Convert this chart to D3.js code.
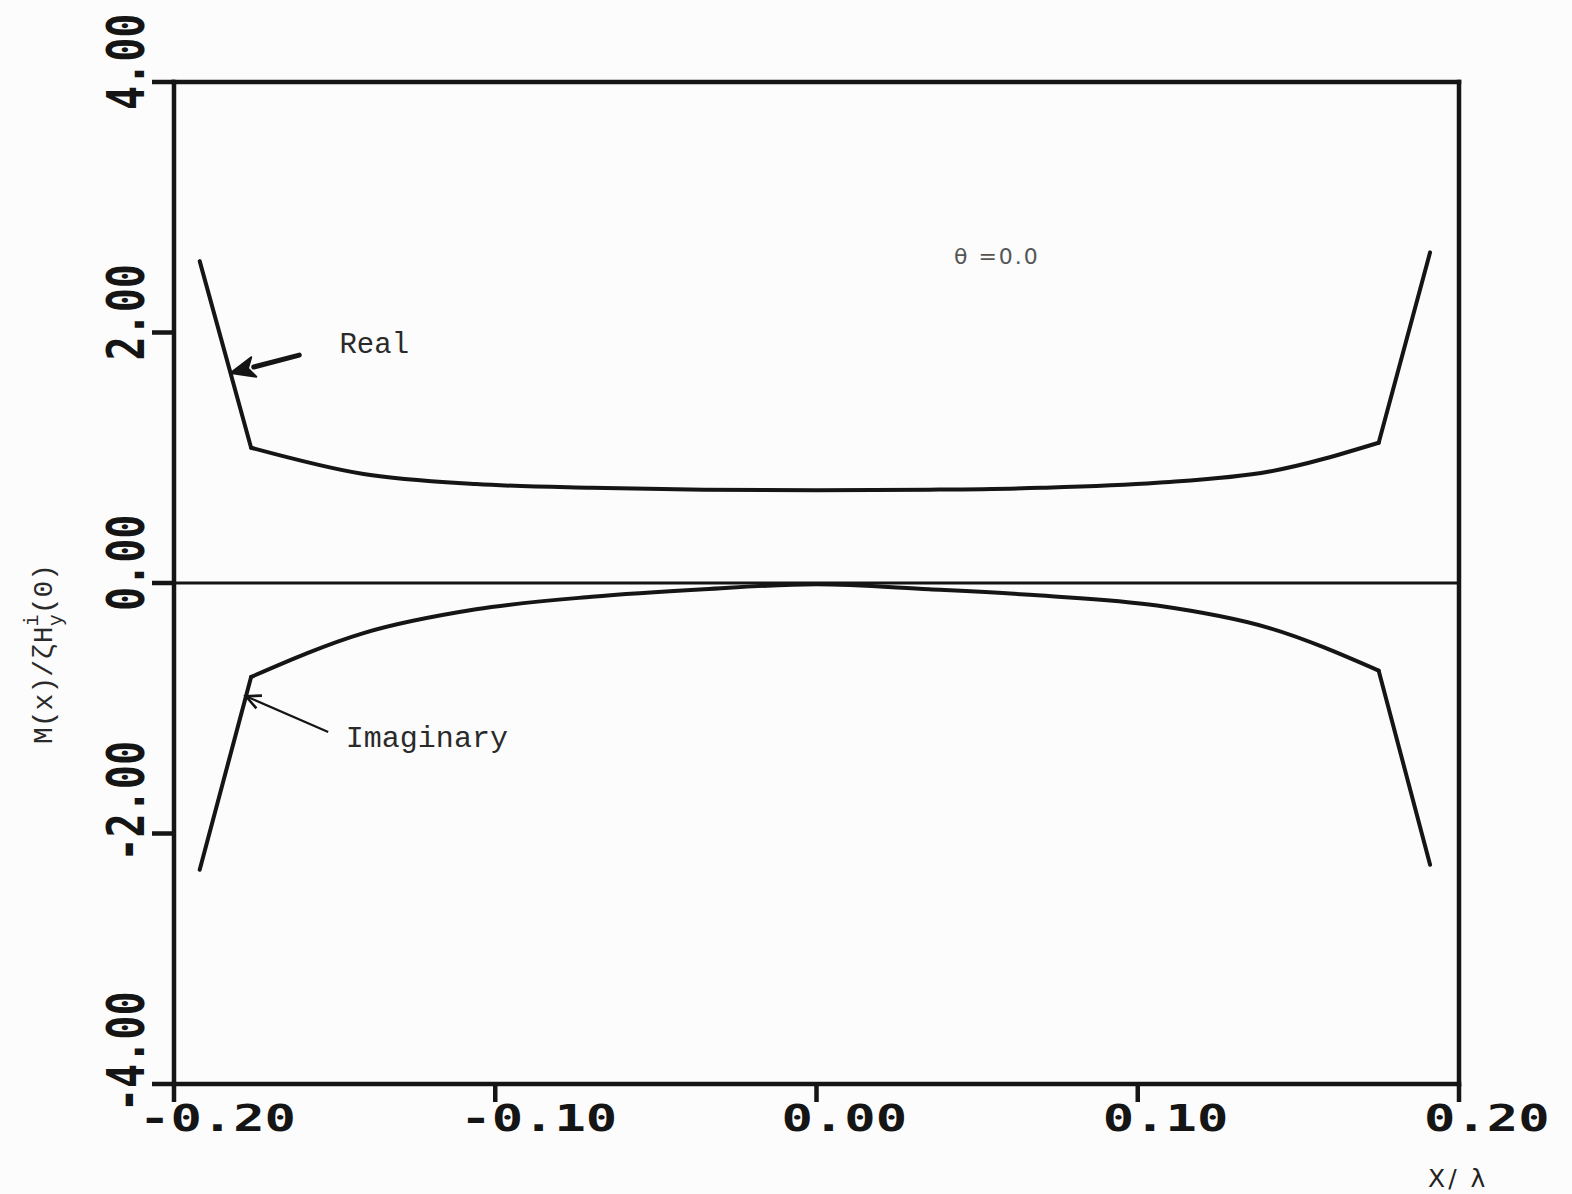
<!DOCTYPE html>
<html>
<head>
<meta charset="utf-8">
<script src="https://cdn.jsdelivr.net/npm/d3@7"></script>
<style>
  html, body { margin: 0; padding: 0; background: #fcfcfc; }
  svg { display: block; }
</style>
</head>
<body>
<svg id="chart" width="1572" height="1194"></svg>
<script>
// Sample positions along the strip (x / lambda)
const xPos = [-0.192, -0.176, -0.141, -0.106, -0.070, -0.035, 0.0, 0.035, 0.070, 0.106, 0.141, 0.175, 0.191];
// Normalised magnetic current, real part
const realVals = [2.57, 1.08, 0.87, 0.79, 0.76, 0.745, 0.74, 0.745, 0.76, 0.80, 0.89, 1.12, 2.64];
// Normalised magnetic current, imaginary part
const imagVals = [-2.29, -0.75, -0.40, -0.21, -0.11, -0.05, -0.01, -0.05, -0.10, -0.18, -0.36, -0.70, -2.25];

const xTicks = [-0.2, -0.1, 0.0, 0.1, 0.2];
const xTickLabels = ["-0.20", "-0.10", "0.00", "0.10", "0.20"];
const yTicks = [4, 2, 0, -2, -4];
const yTickLabels = ["4.00", "2.00", "0.00", "-2.00", "-4.00"];

const svg = d3.select("#chart");
const x = d3.scaleLinear().domain([-0.2, 0.2]).range([174, 1459]);
const y = d3.scaleLinear().domain([-4, 4]).range([1084, 82]);

const ink = "#151515";
const tickFont = "'DejaVu Sans Mono', monospace";
const typeFont = "'Liberation Mono', 'DejaVu Sans Mono', monospace";

// Frame: left, top, right, bottom
const frame = svg.append("g").attr("stroke", ink).attr("stroke-width", 4.5).attr("fill", "none").attr("stroke-linecap", "square");
frame.append("line").attr("x1", x(-0.2)).attr("x2", x(-0.2)).attr("y1", y(4)).attr("y2", y(-4));
frame.append("line").attr("x1", x(-0.2)).attr("x2", x(0.2)).attr("y1", y(4)).attr("y2", y(4));
frame.append("line").attr("x1", x(0.2)).attr("x2", x(0.2)).attr("y1", y(4)).attr("y2", y(-4));
frame.append("line").attr("x1", x(-0.2)).attr("x2", x(0.2)).attr("y1", y(-4)).attr("y2", y(-4));

// Zero reference line
svg.append("line")
  .attr("x1", x(-0.2)).attr("x2", x(0.2))
  .attr("y1", y(0)).attr("y2", y(0))
  .attr("stroke", ink).attr("stroke-width", 3.2);

// X axis ticks and labels (plotter lettering, stretched wide)
const xg = svg.append("g");
xTicks.forEach((t, i) => {
  xg.append("line")
    .attr("x1", x(t)).attr("x2", x(t))
    .attr("y1", y(-4)).attr("y2", y(-4) + 18)
    .attr("stroke", ink).attr("stroke-width", 4.5);
  xg.append("text")
    .attr("transform", `translate(${x(t) - 35},${y(-4) + 47}) scale(1.41,1)`)
    .attr("font-family", tickFont)
    .attr("font-weight", "bold")
    .attr("font-size", 37)
    .attr("fill", ink)
    .text(xTickLabels[i]);
});

// Y axis ticks and rotated labels (plotter lettering, condensed)
const yg = svg.append("g");
yTicks.forEach((t, i) => {
  yg.append("line")
    .attr("x1", x(-0.2) - 22).attr("x2", x(-0.2))
    .attr("y1", y(t)).attr("y2", y(t))
    .attr("stroke", ink).attr("stroke-width", 4.5);
  yg.append("text")
    .attr("transform", `translate(${x(-0.2) - 30},${y(t) + 28}) rotate(-90) scale(0.77,1)`)
    .attr("font-family", tickFont)
    .attr("font-weight", "bold")
    .attr("font-size", 52)
    .attr("fill", ink)
    .text(yTickLabels[i]);
});

// Curves: straight edge segments out to the strip ends, smooth run between the corners
const line = d3.line().x(d => x(d[0])).y(d => y(d[1]));
const smooth = d3.line().x(d => x(d[0])).y(d => y(d[1])).curve(d3.curveMonotoneX);
const realPts = xPos.map((v, i) => [v, realVals[i]]);
const imagPts = xPos.map((v, i) => [v, imagVals[i]]);
const n = xPos.length;
[realPts, imagPts].forEach(pts => {
  const g = svg.append("g")
    .attr("fill", "none")
    .attr("stroke", ink)
    .attr("stroke-width", 4)
    .attr("stroke-linejoin", "round")
    .attr("stroke-linecap", "round");
  g.append("path").attr("d", line(pts.slice(0, 2)));
  g.append("path").attr("d", smooth(pts.slice(1, n - 1)));
  g.append("path").attr("d", line(pts.slice(n - 2)));
});

// Point on the outer segment of a curve, fraction t from the end point towards the corner
function along(pts, t) {
  const a = pts[0], b = pts[1];
  return [x(a[0] + (b[0] - a[0]) * t), y(a[1] + (b[1] - a[1]) * t)];
}

// "Real" annotation with a heavy filled arrow
const realTip = along(realPts, 0.6);
const realTail = [x(-0.161), y(1.82)];
{
  const ang = Math.atan2(realTip[1] - realTail[1], realTip[0] - realTail[0]);
  const len = 24, half = 10;
  const bx = realTip[0] - len * Math.cos(ang), by = realTip[1] - len * Math.sin(ang);
  svg.append("line")
    .attr("x1", realTail[0]).attr("y1", realTail[1])
    .attr("x2", bx).attr("y2", by)
    .attr("stroke", ink).attr("stroke-width", 5).attr("stroke-linecap", "round");
  const p1 = [bx + half * Math.sin(ang), by - half * Math.cos(ang)];
  const p2 = [bx - half * Math.sin(ang), by + half * Math.cos(ang)];
  svg.append("path")
    .attr("d", `M${realTip[0]},${realTip[1]}L${p1[0]},${p1[1]}L${bx + 6 * Math.cos(ang)},${by + 6 * Math.sin(ang)}L${p2[0]},${p2[1]}Z`)
    .attr("fill", ink).attr("stroke", ink).attr("stroke-width", 2).attr("stroke-linejoin", "round");
}
svg.append("text")
  .attr("x", x(-0.1485)).attr("y", y(1.84))
  .attr("font-family", typeFont).attr("font-size", 29)
  .attr("fill", "#2a2a2a")
  .text("Real");

// "Imaginary" annotation with a thin open arrow
const imagTip = along(imagPts, 0.9);
const imagTail = [x(-0.152), y(-1.19)];
{
  const ang = Math.atan2(imagTip[1] - imagTail[1], imagTip[0] - imagTail[0]);
  svg.append("line")
    .attr("x1", imagTail[0]).attr("y1", imagTail[1])
    .attr("x2", imagTip[0]).attr("y2", imagTip[1])
    .attr("stroke", ink).attr("stroke-width", 2.2);
  const len = 16, spread = 0.45;
  const h1 = [imagTip[0] - len * Math.cos(ang - spread), imagTip[1] - len * Math.sin(ang - spread)];
  const h2 = [imagTip[0] - len * Math.cos(ang + spread), imagTip[1] - len * Math.sin(ang + spread)];
  svg.append("path")
    .attr("d", `M${h1[0]},${h1[1]}L${imagTip[0]},${imagTip[1]}L${h2[0]},${h2[1]}`)
    .attr("fill", "none").attr("stroke", ink).attr("stroke-width", 2.6);
}
svg.append("text")
  .attr("x", x(-0.1465)).attr("y", y(-1.31))
  .attr("font-family", typeFont).attr("font-size", 30)
  .attr("fill", "#2a2a2a")
  .text("Imaginary");

// Incidence angle note
svg.append("text")
  .attr("x", x(0.0428)).attr("y", y(2.55))
  .attr("font-family", "'DejaVu Sans', sans-serif").attr("font-size", 22)
  .attr("fill", "#555")
  .attr("letter-spacing", 2)
  .text("θ =0.0");

// X axis title
svg.append("text")
  .attr("x", 1428).attr("y", 1187)
  .attr("font-family", "'DejaVu Sans', sans-serif").attr("font-size", 25)
  .attr("fill", "#222")
  .attr("letter-spacing", 3)
  .text("X/ λ");

// Y axis title, rotated, with stacked sub/superscript on H
const yt = svg.append("text")
  .attr("transform", "translate(52,744) rotate(-90)")
  .attr("font-family", typeFont).attr("font-size", 28)
  .attr("fill", "#2a2a2a");
yt.append("tspan").text("M(x)/ζH");
yt.append("tspan").attr("font-size", 20).attr("dy", -14).text("i");
yt.append("tspan").attr("font-size", 20).attr("dx", -12).attr("dy", 24).text("y");
yt.append("tspan").attr("dy", -10).text("(0)");
</script>
</body>
</html>
